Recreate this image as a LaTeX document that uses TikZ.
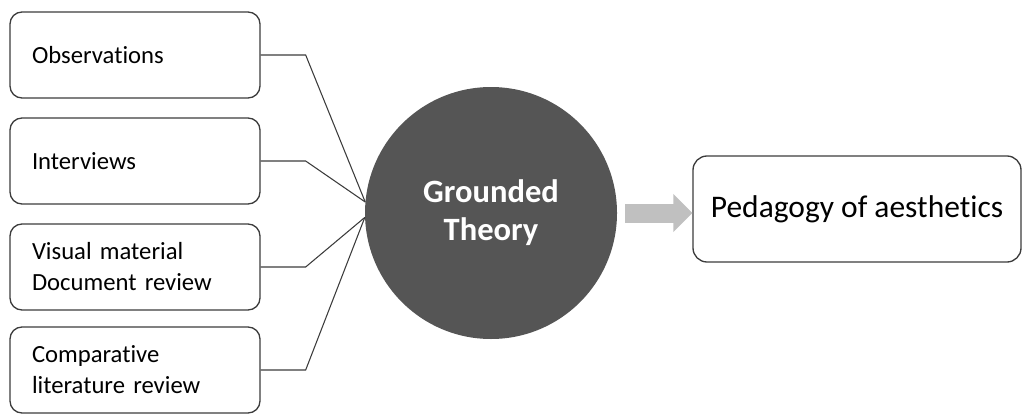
\documentclass[tikz,border=0pt]{standalone}
\usepackage{fontspec}
\setmainfont[Ligatures=NoCommon]{Carlito}
\usetikzlibrary{arrows.meta}
\definecolor{boxline}{RGB}{60,60,60}
\definecolor{hubfill}{RGB}{85,85,85}
\definecolor{flowgray}{RGB}{192,192,192}

\begin{document}
\begin{tikzpicture}[x=0.75pt, y=-0.75pt,
  source/.style={draw=boxline, line width=1pt, rounded corners=9pt,
    minimum width=187.5pt, minimum height=64.5pt, text width=154.5pt,
    inner xsep=16.5pt, align=left, font=\fontsize{18.5}{23.25}\selectfont},
  hub/.style={circle, fill=hubfill, minimum size=189pt, inner sep=0pt,
    text=white, align=center, font=\fontsize{24.4}{28.5}\selectfont\bfseries},
  result/.style={draw=boxline, line width=1pt, rounded corners=10.5pt,
    minimum width=246pt, minimum height=79.5pt, font=\fontsize{23.6}{28}\selectfont},
  link/.style={draw=boxline, line width=0.8pt},
  flow/.style={draw=flowgray, line width=14.25pt, shorten <=6pt,
    -{Triangle[width=27.75pt, length=14.25pt]}}]

\useasboundingbox (0,0) rectangle (1023,414);

\node [source] (obs) at (135,55) {Observations};
\node [source] (int) at (135,161) {Interviews};
\node [source] (vis) at (135,267) {Visual material\\Document review};
\node [source] (comp) at (135,370) {Comparative\\literature review};

\node [hub] (gt) at (491,213) {Grounded\\Theory};
\node [result] (ped) at (857,209) {Pedagogy of aesthetics};

\draw [link] (obs.east) -- ++(45,0) -- (gt.175);
\draw [link] (int.east) -- ++(45,0) -- (gt.175);
\draw [link] (vis.east) -- ++(45,0) -- (gt.182);
\draw [link] (comp.east) -- ++(45,0) -- (gt.182);

\draw [flow] (gt.east) -- (gt.east -| ped.west);

\end{tikzpicture}
\end{document}
